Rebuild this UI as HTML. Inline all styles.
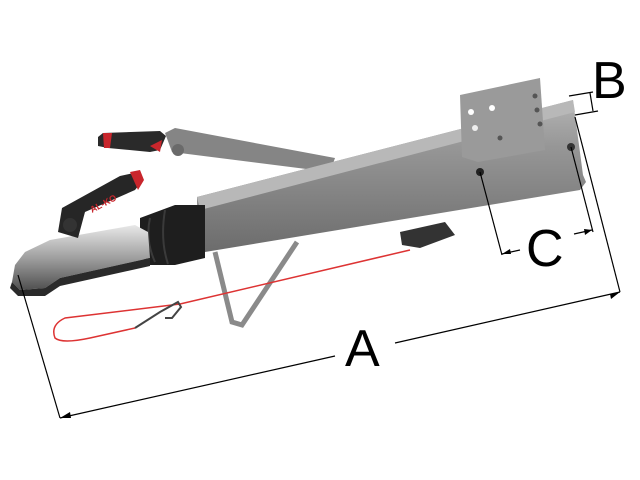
<!DOCTYPE html>
<html><head><meta charset="utf-8"><style>
html,body{margin:0;padding:0;background:#fff;width:640px;height:480px;overflow:hidden}
text{font-family:"Liberation Sans",sans-serif}
</style></head><body>
<svg width="640" height="480" viewBox="0 0 640 480" xmlns="http://www.w3.org/2000/svg">
<defs>
<linearGradient id="g" x1="0" y1="0" x2="0" y2="1"><stop offset="0" stop-color="#b4b4b4"/><stop offset=".3" stop-color="#979797"/><stop offset="1" stop-color="#6c6c6c"/></linearGradient>
<linearGradient id="s" x1="0" y1="0" x2="0" y2="1"><stop offset="0" stop-color="#e8e8e8"/><stop offset=".5" stop-color="#a0a0a0"/><stop offset="1" stop-color="#505050"/></linearGradient>
</defs>
<!-- handbrake bar -->
<polygon points="165,133 175,128 335,158 330,172 172,152" fill="#858585"/>
<circle cx="178" cy="150" r="6" fill="#6a6a6a"/>
<!-- upper handle -->
<path d="M98,137 L103,133 L160,131 L166,136 L160,150 L150,152 L108,148 L98,146 Z" fill="#2a2a2a"/>
<path d="M103,133 L112,133 L110,148 L104,148 Z" fill="#c8262c"/>
<path d="M150,146 L162,140 L160,152 Z" fill="#c8262c"/>
<!-- beam -->
<polygon points="197,197 573,100 583,175 586,182 580,190 205,252 198,245" fill="url(#g)"/>
<polygon points="197,197 573,100 575,112 200,210" fill="#b8b8b8"/>
<!-- plate -->
<polygon points="460,95 540,78 545,150 478,162 462,157" fill="#9a9a9a"/>
<circle cx="471" cy="112" r="3" fill="#fff"/><circle cx="492" cy="108" r="3" fill="#fff"/><circle cx="475" cy="128" r="3" fill="#eee"/>
<circle cx="535" cy="96" r="2.5" fill="#555"/><circle cx="537" cy="110" r="2.5" fill="#555"/><circle cx="540" cy="124" r="2.5" fill="#555"/><circle cx="500" cy="138" r="2.5" fill="#555"/>
<circle cx="480" cy="172" r="4" fill="#222"/><circle cx="571" cy="147" r="4" fill="#333"/>
<!-- mechanism under beam -->
<path d="M400,232 L445,222 L455,235 L420,248 L402,245 Z" fill="#333"/>
<!-- struts -->
<polyline points="215,252 232,322 242,325 297,242" fill="none" stroke="#8a8a8a" stroke-width="5"/>
<!-- bellows -->
<path d="M140,218 L175,205 L205,205 L205,258 L175,265 L150,265 L140,255 Z" fill="#1e1e1e"/>
<path d="M150,218 Q145,240 155,262 M165,210 Q160,240 168,264" stroke="#3a3a3a" stroke-width="2" fill="none"/>
<!-- coupling head -->
<path d="M15,265 L25,252 L50,240 L135,225 L148,232 L150,258 L60,278 L45,288 L20,290 L12,282 Z" fill="url(#s)"/>
<path d="M12,282 L20,290 L45,288 L60,278 L150,258 L150,266 L60,286 L45,296 L18,296 L10,288 Z" fill="#2a2a2a"/>
<!-- coupling handle -->
<path d="M58,232 L62,208 L120,176 L138,172 L143,180 L135,190 L85,212 L78,238 Z" fill="#262626"/>
<path d="M130,172 L140,170 L144,180 L138,190 Z" fill="#c8262c"/>
<text x="92" y="213" font-size="9" fill="#c8262c" transform="rotate(-28 92 213)" font-weight="bold">AL-KO</text>
<circle cx="70" cy="225" r="7" fill="#333"/>
<!-- cable -->
<path d="M410,250 L180,304" stroke="#d33" stroke-width="1.5" fill="none"/>
<path d="M180,304 L65,318 Q50,325 55,338 Q62,344 90,338 L135,328" stroke="#d33" stroke-width="1.5" fill="none"/>
<path d="M135,328 L160,312 L178,302 L181,307 L172,318 L165,318" stroke="#444" stroke-width="2" fill="none"/>
<!-- dimension lines -->
<g stroke="#000" stroke-width="1.2" fill="none">
<line x1="18" y1="275" x2="60" y2="418"/>
<line x1="575" y1="117" x2="620" y2="292"/>
<line x1="60" y1="418" x2="335" y2="356"/>
<line x1="395" y1="343" x2="620" y2="292"/>
<line x1="480" y1="172" x2="502" y2="255"/>
<line x1="571" y1="147" x2="593" y2="232"/>
<line x1="502" y1="254" x2="520" y2="250"/>
<line x1="574" y1="234" x2="592" y2="230"/>
<line x1="569" y1="96" x2="593" y2="92"/>
<line x1="575" y1="115" x2="598" y2="111"/>
<line x1="590" y1="93" x2="593" y2="111"/>
</g>
<g fill="#000">
<polygon points="60,418 70,412 71,418"/>
<polygon points="620,292 610,294 611,299"/>
<polygon points="502,254 510,249 511,254"/>
<polygon points="592,230 584,229 585,235"/>
</g>
<text x="345" y="366" font-size="52" fill="#000">A</text>
<text x="526" y="266" font-size="52" fill="#000">C</text>
<text x="592" y="98" font-size="52" fill="#000">B</text>
</svg>
</body></html>
